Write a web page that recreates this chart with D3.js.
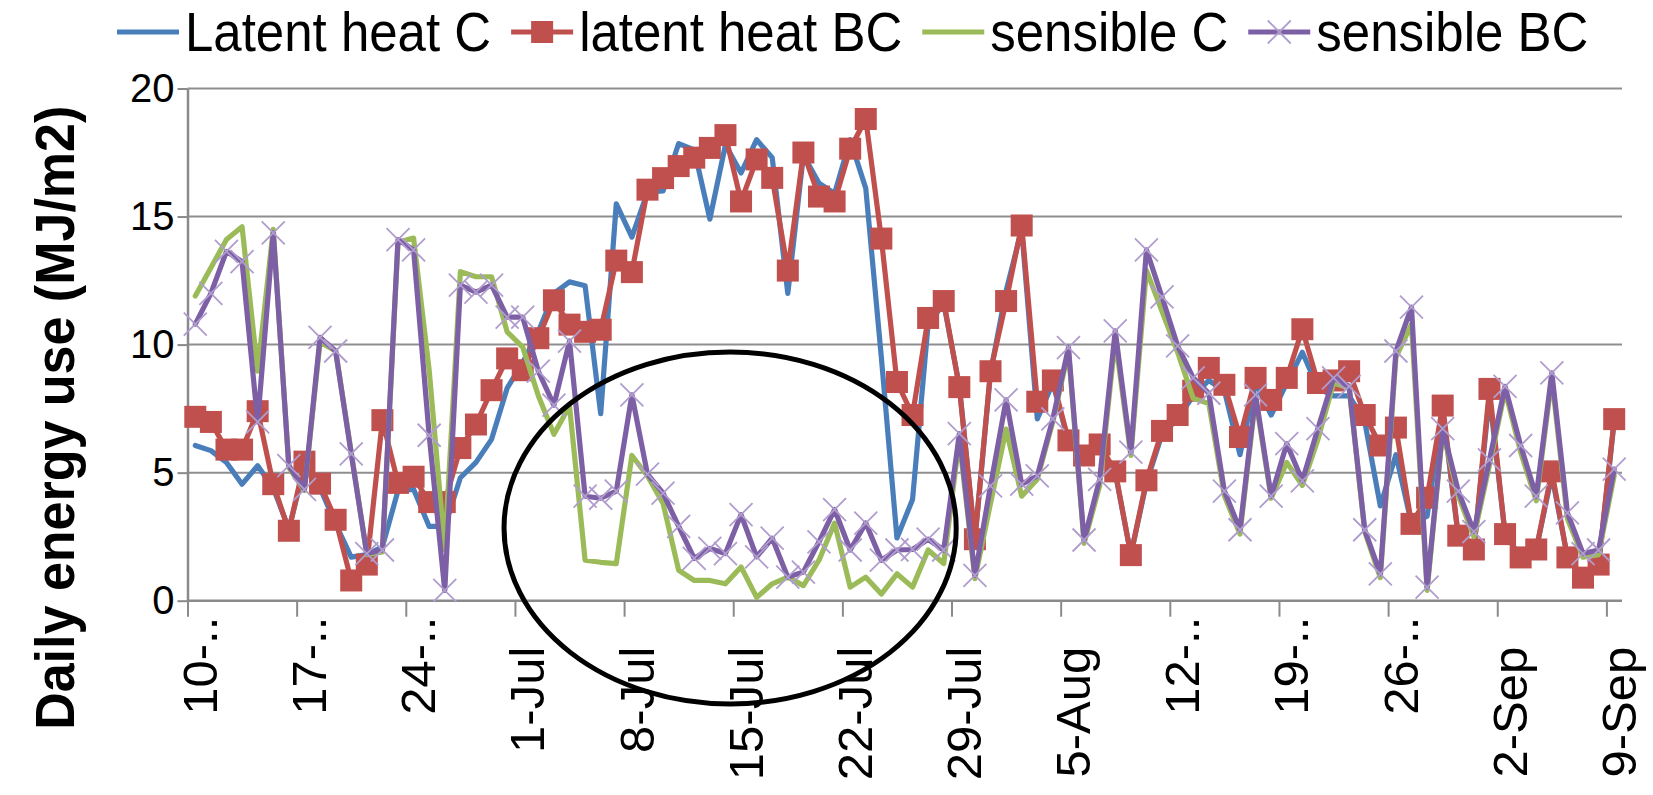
<!DOCTYPE html>
<html>
<head>
<meta charset="utf-8">
<script src="https://cdn.jsdelivr.net/npm/d3@7"></script>
<style>
  html, body { margin: 0; padding: 0; background: #ffffff; }
  svg { display: block; font-family: "Liberation Sans", Arial, sans-serif; }
</style>
</head>
<body>
<svg id="chart" width="1653" height="795"></svg>
<script>
// Daily energy use, 10 Jun – 9 Sep (one value per day, 92 days)
const startDay = "10-Jun";
const dayCount = 92;

const latentHeatC = [
  6.06, 5.86, 5.4, 4.55, 5.27, 4.4, 2.8, 5.2, 4.4, 3.0,
  1.7, 1.8, 2.1, 4.3, 4.35, 2.9, 2.9, 4.8, 5.4, 6.3,
  8.3, 9.3, 10.5, 12.0, 12.45, 12.3, 7.3, 15.5, 14.2, 15.95,
  16.0, 17.85, 17.6, 14.9, 17.8, 16.7, 18.0, 17.3, 12.0, 17.4,
  16.3, 15.9, 18.0, 16.1, 9.5, 2.45, 3.95, 10.8, 11.6, 8.4,
  2.4, 8.9, 12.1, 14.5, 7.1, 8.5, 6.2, 5.6, 6.0, 5.0,
  1.8, 4.6, 6.5, 7.1, 8.0, 8.6, 8.2, 5.7, 8.5, 7.25,
  8.5, 9.7, 8.3, 8.0, 8.0, 7.0, 3.7, 5.7, 3.0, 3.3,
  7.4, 2.5, 2.0, 8.0, 2.6, 1.7, 2.0, 4.9, 1.7, 0.9,
  1.4, 7.0
];

const latentHeatBC = [
  7.18, 6.98, 5.9, 5.9, 7.4, 4.55, 2.73, 5.43, 4.57, 3.16,
  0.79, 1.41, 7.05, 4.6, 4.84, 3.85, 3.85, 5.96, 6.88, 8.22,
  9.46, 9.0, 10.25, 11.73, 10.78, 10.5, 10.58, 13.28, 12.83, 16.05,
  16.5, 16.97, 17.3, 17.68, 18.18, 15.59, 17.23, 16.51, 12.89, 17.5,
  15.78, 15.59, 17.65, 18.81, 14.14, 8.54, 7.25, 11.04, 11.7, 8.34,
  2.4, 8.96, 11.7, 14.65, 7.77, 8.6, 6.26, 5.67, 6.1, 5.05,
  1.78, 4.7, 6.63, 7.25, 8.2, 9.09, 8.43, 6.39, 8.7, 7.84,
  8.7, 10.6, 8.5, 8.6, 8.96, 7.25, 6.06, 6.76, 3.0, 4.02,
  7.62, 2.54, 2.0, 8.27, 2.6, 1.69, 2.0, 5.05, 1.69, 0.9,
  1.41, 7.09
];

const sensibleC = [
  11.9, 13.0, 14.1, 14.6, 8.96, 14.5, 5.2, 4.3, 10.1, 9.75,
  5.8, 1.8, 1.9, 14.0, 14.16, 9.0, 2.0, 12.85, 12.65, 12.65,
  10.5, 9.9, 8.0, 6.5, 7.6, 1.58, 1.5, 1.45, 5.67, 4.87,
  3.8, 1.19, 0.79, 0.79, 0.66, 1.32, 0.13, 0.66, 0.92, 0.59,
  1.58, 3.03, 0.53, 0.92, 0.26, 1.05, 0.53, 1.98, 1.45, 6.3,
  0.86, 3.8, 6.7, 4.08, 4.74, 7.0, 9.75, 2.24, 4.5, 10.2,
  5.67, 12.9, 11.3, 9.7, 7.9, 7.7, 4.1, 2.6, 7.9, 4.0,
  5.4, 4.5, 6.3, 8.5, 8.3, 2.7, 0.9, 9.5, 10.8, 0.4,
  6.6, 4.1, 2.5, 5.3, 8.2, 5.8, 3.9, 8.7, 3.2, 1.7,
  1.8, 4.9
];

const sensibleBC = [
  10.8, 12.0, 13.64, 13.24, 6.98, 14.36, 5.27, 4.35, 10.28, 9.75,
  5.73, 1.84, 1.98, 14.1, 13.7, 6.46, 0.4, 12.32, 12.05, 12.32,
  11.07, 11.07, 8.96, 7.64, 10.14, 4.08, 4.0, 4.28, 8.04, 4.94,
  4.2, 2.9, 1.65, 2.04, 1.84, 3.36, 1.71, 2.44, 0.92, 1.12,
  2.3, 3.56, 1.98, 3.03, 1.58, 1.98, 2.0, 2.4, 1.98, 6.52,
  0.99, 4.48, 7.84, 4.55, 4.87, 7.1, 9.88, 2.37, 4.74, 10.54,
  5.8, 13.7, 11.86, 9.95, 8.7, 8.1, 4.28, 2.77, 8.04, 4.08,
  6.13, 4.68, 6.72, 8.7, 8.37, 2.77, 1.05, 9.75, 11.46, 0.53,
  6.72, 4.28, 2.7, 5.5, 8.37, 6.06, 4.08, 8.9, 3.43, 1.84,
  1.98, 5.14
];

// weekly tick labels (day index 0, 7, 14, ...)
const tickLabels = ["10-..", "17-..", "24-..", "1-Jul", "8-Jul", "15-Jul", "22-Jul",
                    "29-Jul", "5-Aug", "12-..", "19-..", "26-..", "2-Sep", "9-Sep"];
const yTicks = [0, 5, 10, 15, 20];

const seriesNames = ["Latent heat C", "latent heat BC", "sensible C", "sensible BC"];
const seriesColors = ["#4a7ebb", "#c0504d", "#9bbb59", "#7d5fa5"];
const seriesMarkers = ["none", "square", "none", "cross"];

// highlighted period (ellipse), in axis units: day position and MJ/m2
const highlight = { day: 34.8, value: 2.84, rxDays: 14.5, ryValue: 6.87 };

const svg = d3.select("#chart");
svg.append("rect").attr("width", 1653).attr("height", 795).attr("fill", "#ffffff");

const plot = { left: 187.5, right: 1622, top: 88.5, bottom: 600.7 };

const x = d3.scaleLinear().domain([0, dayCount]).range([plot.left, plot.right]);
const y = d3.scaleLinear().domain([0, 20]).range([plot.bottom, plot.top]);

const gridColor = "#8e8e8e";
const axisColor = "#8a8a8a";

// horizontal gridlines
svg.append("g")
  .selectAll("line")
  .data(yTicks.filter(v => v > 0))
  .join("line")
  .attr("x1", plot.left).attr("x2", plot.right)
  .attr("y1", d => y(d)).attr("y2", d => y(d))
  .attr("stroke", gridColor).attr("stroke-width", 2);

// y axis
const yAxis = svg.append("g")
  .attr("transform", `translate(${plot.left},0)`)
  .call(d3.axisLeft(y).tickValues(yTicks).tickSize(10).tickSizeOuter(0).tickPadding(3));
yAxis.select(".domain").attr("stroke", axisColor).attr("stroke-width", 2.5);
yAxis.selectAll(".tick line").attr("stroke", axisColor).attr("stroke-width", 2);
yAxis.selectAll("text")
  .attr("font-family", "Liberation Sans, Arial, sans-serif")
  .attr("font-size", 40).attr("fill", "#000");

// x axis: ticks at week boundaries, labels rotated
const weekStarts = d3.range(0, dayCount, 7);
const xAxis = svg.append("g")
  .attr("transform", `translate(0,${plot.bottom})`)
  .call(d3.axisBottom(x).tickValues(weekStarts).tickSize(16).tickSizeOuter(0)
        .tickFormat((d, i) => tickLabels[i]));
xAxis.select(".domain").attr("stroke", axisColor).attr("stroke-width", 2.5)
  .attr("d", `M${plot.left},0H${plot.right}`);
xAxis.selectAll(".tick line").attr("stroke", axisColor).attr("stroke-width", 2);
xAxis.selectAll("text")
  .attr("font-family", "Liberation Sans, Arial, sans-serif")
  .attr("font-size", 49).attr("fill", "#000")
  .attr("x", 0).attr("y", 0).attr("dy", 0)
  .style("text-anchor", "end")
  .attr("transform", (d, i) => {
    const shortLabel = tickLabels[i].endsWith("..");
    return `translate(29,${shortLabel ? 16 : 46}) rotate(-90)`;
  });

// y axis title
svg.append("text")
  .attr("transform", `translate(74,${(plot.top + 735) / 2 + 6}) rotate(-90) scale(1,1.06)`)
  .attr("text-anchor", "middle")
  .attr("font-size", 52).attr("font-weight", "bold").attr("fill", "#000")
  .text("Daily energy use (MJ/m2)");

// series lines
const allSeries = [latentHeatC, latentHeatBC, sensibleC, sensibleBC];
const line = d3.line().x((d, i) => x(i + 0.5)).y(d => y(d));

const marks = svg.append("g");
allSeries.forEach((values, s) => {
  const g = marks.append("g");
  g.append("path")
    .datum(values)
    .attr("d", line)
    .attr("fill", "none")
    .attr("stroke", seriesColors[s])
    .attr("stroke-width", 5.2)
    .attr("stroke-linejoin", "round")
    .attr("stroke-linecap", "round");
  if (seriesMarkers[s] === "square") {
    g.selectAll("rect")
      .data(values)
      .join("rect")
      .attr("x", (d, i) => x(i + 0.5) - 11)
      .attr("y", d => y(d) - 11)
      .attr("width", 22).attr("height", 22)
      .attr("fill", seriesColors[s]);
  } else if (seriesMarkers[s] === "cross") {
    g.selectAll("path.mk")
      .data(values)
      .join("path")
      .attr("class", "mk")
      .attr("d", (d, i) => {
        const cx = x(i + 0.5), cy = y(d), r = 11.5;
        return `M${cx - r},${cy - r}L${cx + r},${cy + r}M${cx - r},${cy + r}L${cx + r},${cy - r}`;
      })
      .attr("stroke", "#b09dce")
      .attr("stroke-width", 1.8)
      .attr("fill", "none");
  }
});

// highlight ellipse
svg.append("ellipse")
  .attr("cx", x(highlight.day))
  .attr("cy", y(highlight.value))
  .attr("rx", x(highlight.day + highlight.rxDays) - x(highlight.day))
  .attr("ry", y(0) - y(highlight.ryValue))
  .attr("fill", "none")
  .attr("stroke", "#000")
  .attr("stroke-width", 5);

// legend
const legend = svg.append("g");
let lx = 117;
const legendY = 32;
seriesNames.forEach((name, s) => {
  const item = legend.append("g");
  item.append("line")
    .attr("x1", lx).attr("x2", lx + 62)
    .attr("y1", legendY).attr("y2", legendY)
    .attr("stroke", seriesColors[s]).attr("stroke-width", 5.2);
  if (seriesMarkers[s] === "square") {
    item.append("rect")
      .attr("x", lx + 31 - 11).attr("y", legendY - 11)
      .attr("width", 22).attr("height", 22)
      .attr("fill", seriesColors[s]);
  } else if (seriesMarkers[s] === "cross") {
    const cx = lx + 31, r = 11.5;
    item.append("path")
      .attr("d", `M${cx - r},${legendY - r}L${cx + r},${legendY + r}M${cx - r},${legendY + r}L${cx + r},${legendY - r}`)
      .attr("stroke", "#b09dce").attr("stroke-width", 1.8);
  }
  const t = item.append("text")
    .attr("transform", `translate(${lx + 68},51) scale(1,1.08)`)
    .attr("font-size", 51).attr("fill", "#000")
    .text(name);
  lx = lx + 68 + t.node().getComputedTextLength() + 20;
});
</script>
</body>
</html>
